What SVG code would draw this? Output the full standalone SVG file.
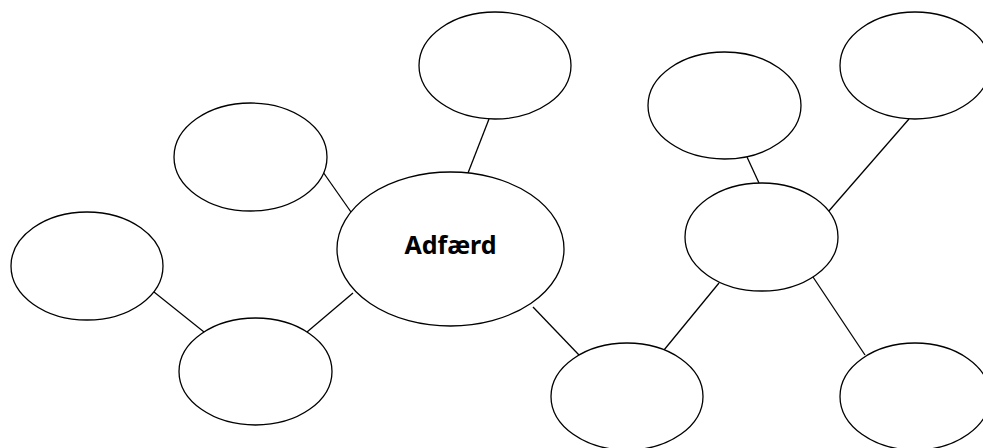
<svg xmlns="http://www.w3.org/2000/svg" width="983" height="448" viewBox="0 0 983 448">
<style>
.n{fill:#fff;stroke:#000;stroke-width:1.3}
.c line{stroke:#000;stroke-width:1.3}
.t{font-family:"Noto Sans","Open Sans","DejaVu Sans",sans-serif;font-weight:bold;font-size:25px;fill:#000}
</style>
<rect width="983" height="448" fill="#fff"/>
<g class="c" id="connectors">
<line x1="489" y1="119" x2="468" y2="173"/>
<line x1="323" y1="172" x2="351" y2="212"/>
<line x1="307" y1="332" x2="353" y2="293"/>
<line x1="154" y1="292" x2="204" y2="332"/>
<line x1="533" y1="307" x2="579" y2="355"/>
<line x1="664" y1="350" x2="719" y2="283"/>
<line x1="747" y1="157" x2="759" y2="183"/>
<line x1="828" y1="212" x2="909" y2="119"/>
<line x1="813" y1="277" x2="865" y2="355"/>
</g>
<g id="center"><ellipse class="n" cx="450.5" cy="249" rx="113.5" ry="77"/><text class="t" x="450.5" y="254" text-anchor="middle">Adfærd</text></g>
<g id="top"><ellipse class="n" cx="495" cy="65.5" rx="76" ry="53.5"/></g>
<g id="upperleft"><ellipse class="n" cx="250.5" cy="157" rx="76.5" ry="54"/></g>
<g id="left"><ellipse class="n" cx="87" cy="266" rx="76" ry="54"/></g>
<g id="lowerleft"><ellipse class="n" cx="255.5" cy="371.5" rx="76.5" ry="53.5"/></g>
<g id="bottommid"><ellipse class="n" cx="627" cy="396.5" rx="76" ry="53.5"/></g>
<g id="rightmid"><ellipse class="n" cx="761.5" cy="237" rx="76.5" ry="54"/></g>
<g id="upperrightmid"><ellipse class="n" cx="724.5" cy="105.5" rx="76.5" ry="53.5"/></g>
<g id="topright"><ellipse class="n" cx="915" cy="65.5" rx="75" ry="53.5"/></g>
<g id="bottomright"><ellipse class="n" cx="915" cy="396.5" rx="75" ry="53.5"/></g>
</svg>
